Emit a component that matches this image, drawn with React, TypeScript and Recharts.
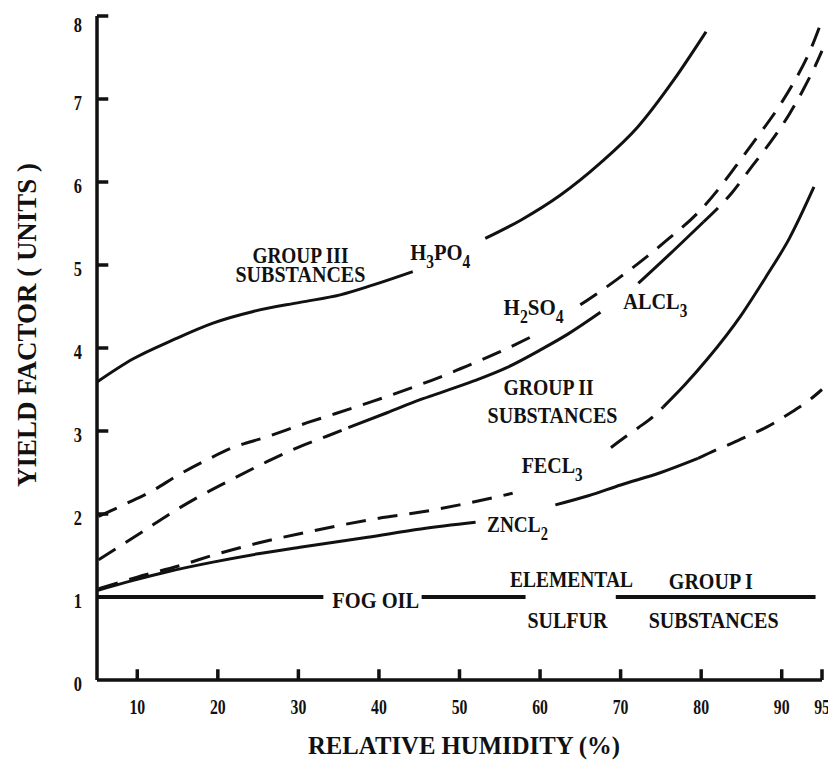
import React from "react";
import { LineChart, Line, XAxis, YAxis, ReferenceDot } from "recharts";

type Pt = [number, number | null];

const INK = "#111";
const FONT = '"Liberation Serif", "DejaVu Serif", "Times New Roman", serif';

const humidityTicks = [10, 20, 30, 40, 50, 60, 70, 80, 90, 95];
const yieldTicks = [0, 1, 2, 3, 4, 5, 6, 7, 8];

// group III
const h3po4: Pt[] = [
  [5, 3.59], [9.5, 3.87], [14.5, 4.1], [19.4, 4.3], [24.4, 4.44], [30.2, 4.55],
  [35.2, 4.64], [39.3, 4.76], [44.2, 4.92], [48.5, null],
  [53.2, 5.32], [57.6, 5.54], [62.5, 5.84], [67.5, 6.23], [72.1, 6.66], [76.6, 7.23], [80.6, 7.81],
];

// group II
const h2so4: Pt[] = [
  [5.2, 1.97], [8.5, 2.12], [11.7, 2.27], [15.1, 2.47], [18.8, 2.66], [21.6, 2.79],
  [26.1, 2.93], [31.1, 3.1], [34.3, 3.2], [39.3, 3.36], [44.3, 3.53], [47.6, 3.65],
  [50.1, 3.75], [54.7, 3.94], [58.8, 4.13], [62, null],
  [65, 4.52], [67.3, 4.67], [69.6, 4.83], [72.2, 5.02], [76, 5.32], [79.6, 5.63],
  [82.2, 5.92], [84.3, 6.19], [86.8, 6.52], [89.6, 6.9], [91.5, 7.2], [93.6, 7.6], [95, 7.95],
];

const alcl3Low: Pt[] = [
  [5.2, 1.45], [10.4, 1.77], [14.5, 2.03], [17.5, 2.2], [21.6, 2.41], [26.1, 2.63],
  [29.9, 2.8], [33.6, 2.94], [36.2, 3.04],
];
const alcl3Mid: Pt[] = [
  [36.2, 3.04], [41, 3.22], [45.2, 3.38], [47.6, 3.46], [51.7, 3.6], [56, 3.77],
  [60.1, 3.98], [63.5, 4.17], [67.5, 4.43], [70, null],
  [72.2, 4.78], [76.2, 5.14], [80.3, 5.52],
];
const alcl3High: Pt[] = [
  [80.3, 5.52], [83.9, 5.88], [86.4, 6.2], [88.6, 6.48], [90.9, 6.81], [92.6, 7.1],
  [94.5, 7.47], [95, 7.58],
];

const fecl3Low: Pt[] = [
  [5.2, 1.1], [10, 1.24], [15, 1.37], [20, 1.52], [25, 1.65], [30, 1.76], [35, 1.86],
  [40, 1.95], [45, 2.02], [50, 2.11], [56.6, 2.25], [62, null],
  [68.8, 2.8], [70.6, 2.93], [72.2, 3.04], [74, 3.17], [75.3, 3.29],
];
const fecl3High: Pt[] = [
  [75.3, 3.29], [78, 3.56], [80.8, 3.87], [85, 4.4], [88, 4.85], [91, 5.33], [94, 5.94],
];

const zncl2Low: Pt[] = [
  [5.1, 1.08], [9.5, 1.2], [14, 1.31], [19.4, 1.42], [25, 1.52], [30.2, 1.6],
  [38.6, 1.72], [45.2, 1.82], [52, 1.9], [57, null],
  [61.9, 2.11], [66, 2.22], [70, 2.35], [75, 2.5], [79.6, 2.67],
];
const zncl2High: Pt[] = [
  [79.6, 2.67], [81.8, 2.77], [84, 2.86], [86, 2.95], [88, 3.04], [90.6, 3.19],
  [93.4, 3.37], [95, 3.5],
];

// fog oil, elemental sulfur, group I
const groupOne: Pt[] = [
  [5, 1], [33.1, 1], [39, null], [45.3, 1], [58.2, 1], [64, null], [69.4, 1], [94.2, 1],
];

const curves = [
  { id: "h3po4", pts: h3po4, dashed: false },
  { id: "h2so4", pts: h2so4, dashed: true },
  { id: "alcl3-low", pts: alcl3Low, dashed: true },
  { id: "alcl3-mid", pts: alcl3Mid, dashed: false },
  { id: "alcl3-high", pts: alcl3High, dashed: true },
  { id: "fecl3-low", pts: fecl3Low, dashed: true },
  { id: "fecl3-high", pts: fecl3High, dashed: false },
  { id: "zncl2-low", pts: zncl2Low, dashed: false },
  { id: "zncl2-high", pts: zncl2High, dashed: true },
];

// text labels, "_" marks a subscript digit
const notes = [
  { text: "GROUP III", x: 30.25, y: 5.02, w: 96 },
  { text: "SUBSTANCES", x: 30.25, y: 4.8, w: 130 },
  { text: "H_3PO_4", x: 47.6, y: 5.06, w: 60 },
  { text: "H_2SO_4", x: 59.2, y: 4.4, w: 60 },
  { text: "ALCL_3", x: 74.3, y: 4.47, w: 64 },
  { text: "GROUP II", x: 61.06, y: 3.43, w: 90 },
  { text: "SUBSTANCES", x: 61.55, y: 3.1, w: 130 },
  { text: "FECL_3", x: 61.5, y: 2.49, w: 61 },
  { text: "ZNCL_2", x: 57.2, y: 1.78, w: 61 },
  { text: "ELEMENTAL", x: 63.9, y: 1.12, w: 123 },
  { text: "GROUP I", x: 81.2, y: 1.1, w: 84 },
  { text: "SULFUR", x: 63.4, y: 0.63, w: 80 },
  { text: "SUBSTANCES", x: 81.55, y: 0.63, w: 130 },
  { text: "FOG OIL", x: 39.6, y: 0.87, w: 87 },
];

const toRows = (pts: Pt[]) => pts.map(([x, y]) => ({ x, y }));

const W = 828;
const H = 760;
const Y_AXIS_W = 89;
// inward tick marks, in axis units (about 11px long)
const Y_TICK_LEN = 1.4;
const X_TICK_LEN = 0.13;

const yTickMarks = yieldTicks
  .slice(1)
  .flatMap((v) => [{ x: 5, y: v }, { x: 5 + Y_TICK_LEN, y: v }, { x: 5 + Y_TICK_LEN, y: null }]);
const xTickMarks = humidityTicks.flatMap((v) => [
  { x: v, y: 0 },
  { x: v, y: X_TICK_LEN },
  { x: v, y: null },
]);

function NoteText({ cx, cy, text, w }: any) {
  const parts = text.split(/_(\d)/);
  return (
    <text
      x={cx}
      y={cy}
      textAnchor="middle"
      fontFamily={FONT}
      fontWeight={700}
      fontSize={24}
      fill={INK}
      textLength={w}
      lengthAdjust="spacingAndGlyphs"
    >
      {parts.map((p: string, i: number) =>
        i % 2 === 1 ? (
          <tspan key={i} fontSize={18} dy={8}>{p}</tspan>
        ) : p ? (
          <tspan key={i} dy={i > 0 ? -8 : 0}>{p}</tspan>
        ) : null
      )}
    </text>
  );
}

const YTick = ({ x, y, payload }: any) => (
  <text
    transform={`translate(${x - 15},${y + (payload.value === 8 ? 16 : 11)}) scale(0.78,1)`}
    textAnchor="end"
    fontFamily={FONT}
    fontWeight={700}
    fontSize={21}
    fill={INK}
  >
    {payload.value}
  </text>
);

const XTick = ({ x, y, payload }: any) => (
  <text
    transform={`translate(${x},${y + 34}) scale(0.75,1)`}
    textAnchor="middle"
    fontFamily={FONT}
    fontWeight={700}
    fontSize={21}
    fill={INK}
  >
    {payload.value}
  </text>
);

const yTitle = () => (
  <text
    transform="translate(28,317) rotate(-90)"
    textAnchor="middle"
    fontFamily={FONT}
    fontWeight={700}
    fontSize={27}
    fill={INK}
    textLength={324}
    lengthAdjust="spacingAndGlyphs"
  >
    YIELD FACTOR ( UNITS )
  </text>
);

const xTitle = () => (
  <text
    x={456}
    y={746}
    textAnchor="middle"
    fontFamily={FONT}
    fontWeight={700}
    fontSize={26}
    fill={INK}
    textLength={312}
    lengthAdjust="spacingAndGlyphs"
  >
    RELATIVE HUMIDITY (%)
  </text>
);

export default function App() {
  return (
    <div style={{ width: W, height: H, background: "#fff" }}>
      <LineChart width={W} height={H} margin={{ top: 8, right: 14, bottom: 28, left: 0 }}>
        <XAxis
          type="number"
          dataKey="x"
          domain={[5, 95]}
          ticks={humidityTicks}
          interval={0}
          tick={XTick}
          tickLine={false}
          tickSize={0}
          tickMargin={0}
          height={60}
          axisLine={{ stroke: INK, strokeWidth: 3.5 }}
          label={{ content: xTitle }}
        />
        <YAxis
          type="number"
          domain={[0, 8]}
          ticks={yieldTicks}
          interval={0}
          tick={YTick}
          tickLine={false}
          tickSize={0}
          tickMargin={0}
          width={Y_AXIS_W}
          axisLine={{ stroke: INK, strokeWidth: 3.5 }}
          label={{ content: yTitle }}
        />
        <Line
          data={yTickMarks}
          dataKey="y"
          type="linear"
          stroke={INK}
          strokeWidth={3.5}
          dot={false}
          activeDot={false}
          connectNulls={false}
          isAnimationActive={false}
        />
        <Line
          data={xTickMarks}
          dataKey="y"
          type="linear"
          stroke={INK}
          strokeWidth={3.5}
          dot={false}
          activeDot={false}
          connectNulls={false}
          isAnimationActive={false}
        />
        <Line
          data={toRows(groupOne)}
          dataKey="y"
          type="linear"
          stroke={INK}
          strokeWidth={4}
          dot={false}
          activeDot={false}
          connectNulls={false}
          isAnimationActive={false}
        />
        {curves.map((c) => (
          <Line
            key={c.id}
            data={toRows(c.pts)}
            dataKey="y"
            type="monotone"
            stroke={INK}
            strokeWidth={3}
            strokeDasharray={c.dashed ? "20 12" : undefined}
            dot={false}
            activeDot={false}
            connectNulls={false}
            isAnimationActive={false}
          />
        ))}
        {notes.map((n, i) => (
          <ReferenceDot
            key={i}
            x={n.x}
            y={n.y}
            r={0}
            shape={(p: any) => <NoteText cx={p.cx} cy={p.cy} text={n.text} w={n.w} />}
          />
        ))}
      </LineChart>
    </div>
  );
}
